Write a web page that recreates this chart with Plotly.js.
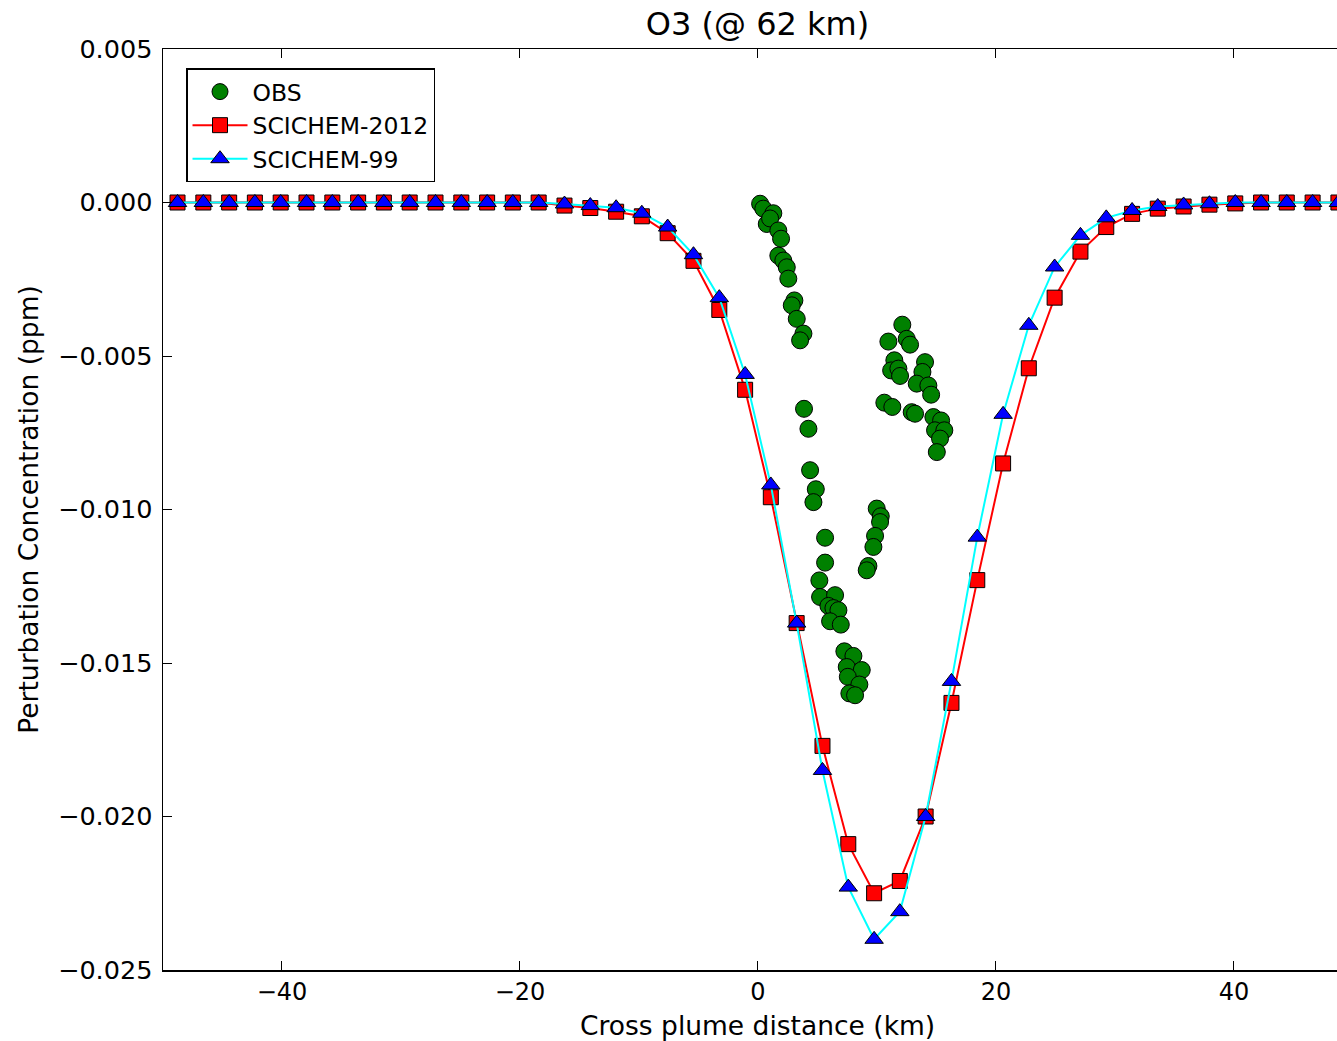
<!DOCTYPE html>
<html>
<head>
<meta charset="utf-8">
<script src="https://cdn.plot.ly/plotly-3.0.1.min.js"></script>
<style>html,body{margin:0;padding:0;background:#fff;}#chart{width:1337px;height:1041px;}</style>
</head>
<body>
<div id="chart"></div>
<script>
// Cross plume distance grid of the model runs (km)
const modelX = [-48.78, -46.61, -44.44, -42.28, -40.11, -37.94, -35.77, -33.60, -31.44, -29.27,
  -27.10, -24.93, -22.76, -20.60, -18.43, -16.26, -14.09, -11.92, -9.76, -7.59,
  -5.42, -3.25, -1.08, 1.08, 3.25, 5.42, 7.59, 9.76, 11.92, 14.09,
  16.26, 18.43, 20.60, 22.76, 24.93, 27.10, 29.27, 31.44, 33.60, 35.77,
  37.94, 40.11, 42.28, 44.44, 46.61, 48.78];

// SCICHEM-2012 perturbation O3 (ppm)
const scichem2012 = [0, 0, 0, 0, 0, 0, 0, 0, 0, 0,
  0, 0, 0, 0, 0, -0.0001, -0.00018, -0.0003, -0.00045, -0.001,
  -0.0019, -0.0035, -0.0061, -0.0096, -0.0137, -0.0177, -0.0209, -0.0225, -0.0221, -0.0200,
  -0.0163, -0.0123, -0.0085, -0.0054, -0.0031, -0.0016, -0.0008, -0.00037, -0.0002, -0.00013,
  -0.00007, -0.00003, 0, 0, 0, 0];

// SCICHEM-99 perturbation O3 (ppm)
const scichem99 = [0, 0, 0, 0, 0, 0, 0, 0, 0, 0,
  0, 0, 0, 0, 0, -0.00005, -0.0001, -0.00017, -0.00035, -0.0008,
  -0.0017, -0.0031, -0.0056, -0.0092, -0.0137, -0.0185, -0.0223, -0.0240, -0.0231, -0.0200,
  -0.0156, -0.0109, -0.0069, -0.0040, -0.0021, -0.00107, -0.0005, -0.00026, -0.00013, -0.00008,
  -0.00004, 0, 0, 0, 0, 0];

// Observations
const obsX = [0.18, 0.45, 1.29, 0.74, 1.02, 1.71, 1.94, 1.71, 2.13, 2.42,
  2.55, 3.06, 2.84, 3.26, 3.82, 3.54, 3.87, 4.24, 4.38, 4.86,
  4.66, 5.64, 5.64, 5.16, 5.22, 6.48, 5.92, 6.34, 6.76, 6.06,
  6.96, 7.26, 8.02, 7.46, 8.72, 7.55, 8.52, 7.68, 8.16, 9.28,
  9.14, 9.98, 10.32, 10.26, 9.84, 9.70, 12.13, 10.96, 12.50, 12.78,
  11.46, 11.19, 11.80, 11.94, 14.04, 13.82, 13.34, 14.32, 14.55, 10.62,
  11.29, 12.92, 13.20, 14.74, 15.39, 14.88, 15.66, 15.30, 15.03];
const obsY = [-0.00004, -0.0002, -0.00035, -0.0007, -0.00052, -0.00091, -0.00118, -0.00173, -0.00189, -0.00211,
  -0.00248, -0.00319, -0.00335, -0.00379, -0.00427, -0.00449, -0.00672, -0.00737, -0.00872, -0.00934,
  -0.00976, -0.01092, -0.01173, -0.01231, -0.01285, -0.01279, -0.01314, -0.01321, -0.01328, -0.01364,
  -0.01375, -0.01462, -0.01477, -0.01513, -0.01523, -0.01545, -0.0157, -0.01599, -0.01605, -0.01184,
  -0.01198, -0.00997, -0.01022, -0.01041, -0.01086, -0.01122, -0.00398, -0.00453, -0.00444, -0.00463,
  -0.00514, -0.00547, -0.00541, -0.00565, -0.0052, -0.00552, -0.0059, -0.00596, -0.00626, -0.00652,
  -0.00666, -0.00683, -0.00688, -0.00699, -0.0071, -0.00742, -0.00742, -0.00769, -0.00813];

const seriesNames = ['OBS', 'SCICHEM-2012', 'SCICHEM-99'];
const xTicks = [-40, -20, 0, 20, 40];
const yTicks = [-0.025, -0.020, -0.015, -0.010, -0.005, 0.000, 0.005];

const FONT = 'DejaVu Sans, Bitstream Vera Sans, sans-serif';

const traces = [
  {
    x: obsX, y: obsY, name: seriesNames[0], type: 'scatter', mode: 'markers',
    marker: {symbol: 'circle', size: 17, color: '#008000', line: {color: '#000000', width: 1}}
  },
  {
    x: modelX, y: scichem2012, name: seriesNames[1], type: 'scatter', mode: 'lines+markers',
    line: {color: '#ff0000', width: 2},
    marker: {symbol: 'square', size: 15, color: '#ff0000', line: {color: '#000000', width: 1}}
  },
  {
    x: modelX, y: scichem99, name: seriesNames[2], type: 'scatter', mode: 'lines+markers',
    line: {color: '#00ffff', width: 2},
    marker: {symbol: 'triangle-up', size: 16, color: '#0000ff', line: {color: '#000000', width: 1}}
  }
];

const layout = {
  width: 1337, height: 1041,
  margin: {l: 163, r: 0, t: 49, b: 71, pad: 0},
  paper_bgcolor: '#ffffff', plot_bgcolor: '#ffffff',
  font: {family: FONT, size: 24, color: '#000000'},
  title: {
    text: 'O3 (@ 62 km)', font: {family: FONT, size: 32, color: '#000000'},
    xref: 'container', x: 757.5 / 1337, xanchor: 'center',
    yref: 'container', y: 1 - 24 / 1041, yanchor: 'middle'
  },
  showlegend: true,
  legend: {
    x: 0.0196, y: 0.979, xanchor: 'left', yanchor: 'top',
    bgcolor: '#ffffff', bordercolor: '#000000', borderwidth: 1.5,
    font: {family: FONT, size: 23.5, color: '#000000'},
    itemsizing: 'trace', itemwidth: 55, tracegroupgap: 0
  },
  annotations: [{
    text: 'Cross plume distance (km)', showarrow: false,
    xref: 'paper', x: (757.5 - 163) / 1174, xanchor: 'center',
    yref: 'paper', y: -(1025 - 970) / 921, yanchor: 'middle',
    font: {family: FONT, size: 26.5, color: '#000000'}
  }],
  xaxis: {
    range: [-50, 48.66], autorange: false,
    tickmode: 'array', tickvals: xTicks, ticktext: xTicks.map(v => v < 0 ? '\u2212' + Math.abs(v) : String(v)),
    ticks: 'inside', ticklen: 9, tickwidth: 1, tickcolor: '#000000',
    showline: true, linecolor: '#000000', linewidth: 1.5, mirror: 'ticks',
    showgrid: false, zeroline: false,
    tickfont: {family: FONT, size: 24, color: '#000000'}
  },
  yaxis: {
    range: [-0.025, 0.005], autorange: false,
    tickmode: 'array', tickvals: yTicks,
    ticktext: yTicks.map(v => (v < 0 ? '\u2212' : '') + Math.abs(v).toFixed(3)),
    ticks: 'inside', ticklen: 9, tickwidth: 1, tickcolor: '#000000',
    showline: true, linecolor: '#000000', linewidth: 1.5, mirror: false,
    showgrid: false, zeroline: false,
    tickfont: {family: FONT, size: 25.5, color: '#000000'},
    ticklabelstandoff: 4,
    title: {text: 'Perturbation Concentration (ppm)', font: {family: FONT, size: 26.5, color: '#000000'}, standoff: 12}
  }
};

Plotly.newPlot('chart', traces, layout, {displayModeBar: false, staticPlot: true});
</script>
</body>
</html>
